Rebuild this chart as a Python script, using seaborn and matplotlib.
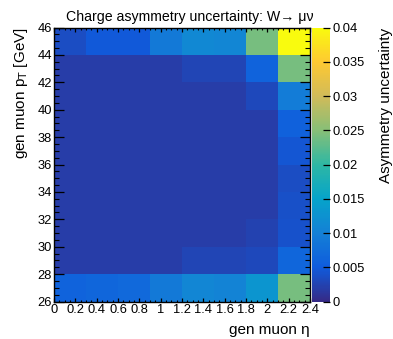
import numpy as np
import pandas as pd
import matplotlib
matplotlib.use("Agg")
import matplotlib.pyplot as plt
import seaborn as sns
from matplotlib.colors import LinearSegmentedColormap
from matplotlib.ticker import FixedLocator

# ---- data ----
eta_edges = [0.0, 0.3, 0.6, 0.9, 1.2, 1.5, 1.8, 2.1, 2.4]
pt_edges = [26, 28, 30, 32, 34, 36, 38, 40, 42, 44, 46]
# rows: pT bins from 26-28 (bottom) to 44-46 (top)
row_26_28 = [0.0060, 0.0065, 0.0068, 0.0090, 0.0108, 0.0105, 0.0130, 0.0240]
row_28_30 = [0.0020, 0.0020, 0.0020, 0.0020, 0.0028, 0.0028, 0.0030, 0.0065]
row_30_32 = [0.0020, 0.0020, 0.0020, 0.0020, 0.0020, 0.0020, 0.0025, 0.0040]
row_32_34 = [0.0020, 0.0020, 0.0020, 0.0020, 0.0020, 0.0020, 0.0020, 0.0038]
row_34_36 = [0.0020, 0.0020, 0.0020, 0.0020, 0.0020, 0.0020, 0.0020, 0.0036]
row_36_38 = [0.0020, 0.0020, 0.0020, 0.0020, 0.0020, 0.0020, 0.0020, 0.0045]
row_38_40 = [0.0020, 0.0020, 0.0020, 0.0020, 0.0020, 0.0020, 0.0020, 0.0058]
row_40_42 = [0.0020, 0.0020, 0.0020, 0.0020, 0.0020, 0.0020, 0.0030, 0.0095]
row_42_44 = [0.0020, 0.0020, 0.0020, 0.0020, 0.0028, 0.0028, 0.0060, 0.0240]
row_44_46 = [0.0035, 0.0048, 0.0048, 0.0090, 0.0110, 0.0108, 0.0240, 0.0400]
rows = [row_26_28, row_28_30, row_30_32, row_32_34, row_34_36,
        row_36_38, row_38_40, row_40_42, row_42_44, row_44_46]

x_ticks = [0, 0.2, 0.4, 0.6, 0.8, 1, 1.2, 1.4, 1.6, 1.8, 2, 2.2, 2.4]
x_ticklabels = ["0", "0.2", "0.4", "0.6", "0.8", "1", "1.2", "1.4", "1.6", "1.8", "2", "2.2", "2.4"]
y_ticks = [26, 28, 30, 32, 34, 36, 38, 40, 42, 44, 46]
z_ticks = [0, 0.005, 0.01, 0.015, 0.02, 0.025, 0.03, 0.035, 0.04]
z_ticklabels = ["0", "0.005", "0.01", "0.015", "0.02", "0.025", "0.03", "0.035", "0.04"]

# ---- ROOT kBird palette ----
stops = [0.0, 0.125, 0.25, 0.375, 0.5, 0.625, 0.75, 0.875, 1.0]
red = [0.2082, 0.0592, 0.0780, 0.0232, 0.1802, 0.5301, 0.8186, 0.9956, 0.9764]
green = [0.1664, 0.3599, 0.5041, 0.6419, 0.7178, 0.7492, 0.7328, 0.7862, 0.9832]
blue = [0.5293, 0.8684, 0.8385, 0.7914, 0.6425, 0.4662, 0.3499, 0.1968, 0.0539]
cmap = LinearSegmentedColormap.from_list(
    "kBird", [(s, (r, g, b)) for s, r, g, b in zip(stops, red, green, blue)], N=255)

plt.rcParams['font.family'] = ['Liberation Sans', 'DejaVu Sans']

W, H = 393, 339
fig = plt.figure(figsize=(W / 100, H / 100), dpi=100)
ax = fig.add_axes([54 / W, 1 - 301.5 / H, 256 / W, 274 / H])
cax = fig.add_axes([311.5 / W, 1 - 301.5 / H, 18.5 / W, 274 / H])

df = pd.DataFrame(rows,
                  index=[f"{a}-{b}" for a, b in zip(pt_edges[:-1], pt_edges[1:])],
                  columns=[f"{a}-{b}" for a, b in zip(eta_edges[:-1], eta_edges[1:])])

sns.heatmap(df, ax=ax, cbar_ax=cax, cmap=cmap, vmin=0, vmax=0.04,
            xticklabels=False, yticklabels=False)

# map physical coordinates onto heatmap cell coordinates
dx = eta_edges[1] - eta_edges[0]
dy = pt_edges[1] - pt_edges[0]
x0, y0 = eta_edges[0], pt_edges[0]
ax.set_xlim(0, len(eta_edges) - 1)
ax.set_ylim(0, len(pt_edges) - 1)  # low pT at bottom
ax.xaxis.set_major_locator(FixedLocator([(t - x0) / dx for t in x_ticks]))
ax.set_xticklabels(x_ticklabels)
ax.xaxis.set_minor_locator(FixedLocator([(t - x0) / dx for t in np.arange(0, 2.4001, 0.05)]))
ax.yaxis.set_major_locator(FixedLocator([(t - y0) / dy for t in y_ticks]))
ax.set_yticklabels([str(t) for t in y_ticks])
ax.yaxis.set_minor_locator(FixedLocator([(t - y0) / dy for t in np.arange(26, 46.01, 0.5)]))

for sp in ax.spines.values():
    sp.set_visible(True)
    sp.set_linewidth(1.0)
    sp.set_color('black')
ax.tick_params(which='both', direction='in', top=True, right=True,
               bottom=True, left=True, labelsize=9.3, color='black')
ax.tick_params(axis='x', which='major', length=2.6, width=0.9, pad=2)
ax.tick_params(axis='x', which='minor', length=1.5, width=0.8)
ax.tick_params(axis='y', which='major', length=7, width=0.9, pad=1.5)
ax.tick_params(axis='y', which='minor', length=3.6, width=0.8)
for lab in ax.get_yticklabels():
    lab.set_rotation(0)

ax.set_xlabel("gen muon η", fontsize=11, loc='right', labelpad=5)
ax.set_ylabel("gen muon p$_{\\mathrm{T}}$ [GeV]", fontsize=11, loc='top', labelpad=5)
ax.set_title("Charge asymmetry uncertainty: W\u2192 μν", fontsize=10.2, pad=5,
             x=0.53)

cax.yaxis.set_major_locator(FixedLocator(z_ticks))
cax.set_yticklabels(z_ticklabels)
cax.tick_params(which='major', direction='in', right=True, left=False,
                length=5, width=0.9, labelsize=9.3, pad=2, color='black')
cax.set_ylabel("Asymmetry uncertainty", fontsize=11, loc='top', labelpad=10)
cax.yaxis.set_label_position('right')
for sp in cax.spines.values():
    sp.set_visible(False)

fig.savefig("out.png", dpi=100)
